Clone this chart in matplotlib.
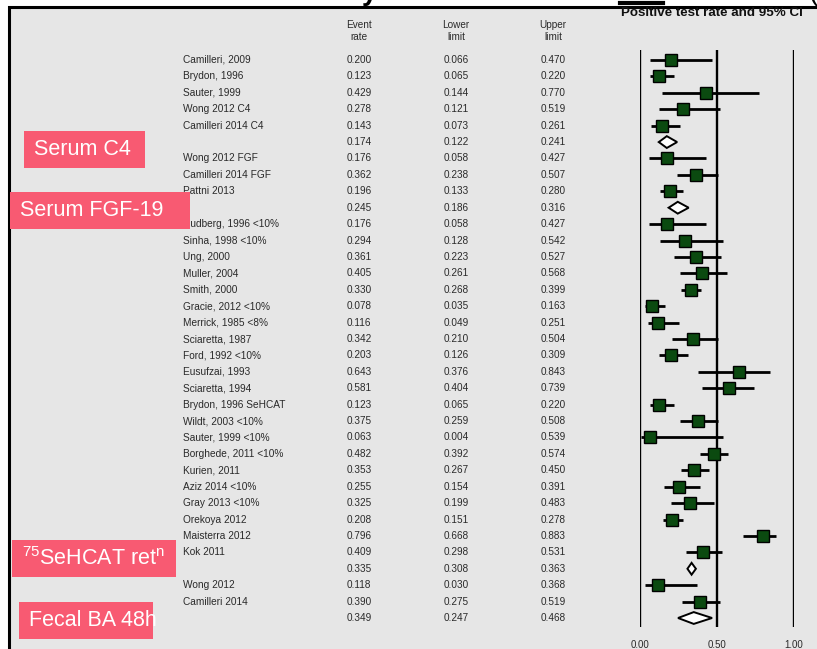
import matplotlib
matplotlib.use("Agg")
import matplotlib.pyplot as plt
import matplotlib.transforms as mtransforms
from matplotlib.patches import Rectangle, Polygon
from matplotlib.lines import Line2D

plt.rcParams["font.family"] = ["Liberation Sans", "DejaVu Sans"]
plt.rcParams["mathtext.fontset"] = "custom"
plt.rcParams["mathtext.rm"] = "Liberation Sans"

# study rows, top to bottom ("" = pooled estimate of the group above)
studies = [
    "Camilleri, 2009", "Brydon, 1996", "Sauter, 1999", "Wong 2012 C4",
    "Camilleri 2014 C4", "",
    "Wong 2012 FGF", "Camilleri 2014 FGF", "Pattni 2013", "",
    "Rudberg, 1996 <10%", "Sinha, 1998 <10%", "Ung, 2000", "Muller, 2004",
    "Smith, 2000", "Gracie, 2012 <10%", "Merrick, 1985 <8%", "Sciaretta, 1987",
    "Ford, 1992 <10%", "Eusufzai, 1993", "Sciaretta, 1994",
    "Brydon, 1996 SeHCAT", "Wildt, 2003 <10%", "Sauter, 1999 <10%",
    "Borghede, 2011 <10%", "Kurien, 2011", "Aziz 2014 <10%", "Gray 2013 <10%",
    "Orekoya 2012", "Maisterra 2012", "Kok 2011", "",
    "Wong 2012", "Camilleri 2014", "",
]
event_rate = [
    0.200, 0.123, 0.429, 0.278, 0.143, 0.174,
    0.176, 0.362, 0.196, 0.245,
    0.176, 0.294, 0.361, 0.405, 0.330, 0.078, 0.116, 0.342, 0.203, 0.643,
    0.581, 0.123, 0.375, 0.063, 0.482, 0.353, 0.255, 0.325, 0.208, 0.796,
    0.409, 0.335,
    0.118, 0.390, 0.349,
]
lower_limit = [
    0.066, 0.065, 0.144, 0.121, 0.073, 0.122,
    0.058, 0.238, 0.133, 0.186,
    0.058, 0.128, 0.223, 0.261, 0.268, 0.035, 0.049, 0.210, 0.126, 0.376,
    0.404, 0.065, 0.259, 0.004, 0.392, 0.267, 0.154, 0.199, 0.151, 0.668,
    0.298, 0.308,
    0.030, 0.275, 0.247,
]
upper_limit = [
    0.470, 0.220, 0.770, 0.519, 0.261, 0.241,
    0.427, 0.507, 0.280, 0.316,
    0.427, 0.542, 0.527, 0.568, 0.399, 0.163, 0.251, 0.504, 0.309, 0.843,
    0.739, 0.220, 0.508, 0.539, 0.574, 0.450, 0.391, 0.483, 0.278, 0.883,
    0.531, 0.363,
    0.368, 0.519, 0.468,
]
x_ticks = [0.0, 0.5, 1.0]
x_tick_labels = ["0.00", "0.50", "1.00"]

# group labels: (text, box left, box top, box right, box bottom) in pixels
group_boxes = [
    ("Serum C4", 24, 131, 145, 168),
    ("Serum FGF-19", 10, 192, 190, 229),
    (r"$\mathregular{^{75}}$SeHCAT ret$\mathregular{^{n}}$", 12, 540, 176, 577),
    ("Fecal BA 48h", 19, 602, 153, 639),
]

W, H = 817, 649
BG = "#e6e6e6"
PINK = "#f85a72"
TXT = "#2a2a2a"


def fx(px):
    return px / W


def fy(py):
    return 1 - py / H


fig = plt.figure(figsize=(W / 100, H / 100), dpi=100, facecolor="white")

# slide panel with black border on top/left
fig.add_artist(Rectangle((fx(8.5), -0.05), 1.2, fy(6.5) + 0.05,
                         transform=fig.transFigure, facecolor=BG,
                         edgecolor="black", linewidth=2.2, zorder=-5))

# cut-off remnants of slide title above the panel
fig.text(fx(362), 1.0, "y", fontsize=20, fontweight="bold", va="baseline")
fig.text(fx(808), 1.0, "(", fontsize=20, va="baseline")
fig.add_artist(Line2D([fx(620), fx(663)], [fy(3), fy(3)], color="black",
                      linewidth=3, transform=fig.transFigure))

# forest axis: x = 0 at px 640, 1 at px 794; rows from y=60 to 618
n = len(studies)
row_step = (618 - 60) / (n - 1)
ax = fig.add_axes([fx(640), fy(627), fx(794) - fx(640), (627 - 50) / H])
ax.set_facecolor("none")
ax.set_xlim(0, 1)
ax.set_ylim((n - 1) + (627 - 618) / row_step, -(60 - 50) / row_step)
for s in ax.spines.values():
    s.set_visible(False)
ax.set_yticks([])
ax.set_xticks(x_ticks)
ax.set_xticklabels(x_tick_labels, fontsize=7, color=TXT)
ax.tick_params(axis="x", length=0, pad=9)
for xv in x_ticks:
    ax.axvline(xv, color="black", linewidth=1.7, zorder=1)

rows = list(range(n))
study_rows = [r for r in rows if studies[r]]
pooled_rows = [r for r in rows if not studies[r]]

ax.hlines(study_rows, [lower_limit[r] for r in study_rows],
          [upper_limit[r] for r in study_rows], color="black",
          linewidth=2, zorder=2, clip_on=False)
ax.plot([event_rate[r] for r in study_rows], study_rows, "s",
        markersize=9, markerfacecolor="#0b4a10", markeredgecolor="black",
        markeredgewidth=1, linestyle="none", zorder=3, clip_on=False)
half_h = 0.36
for r in pooled_rows:
    ax.add_patch(Polygon([(lower_limit[r], r), (event_rate[r], r - half_h),
                          (upper_limit[r], r), (event_rate[r], r + half_h)],
                         closed=True, facecolor="white", edgecolor="black",
                         linewidth=1.4, zorder=3, clip_on=False))

# table columns
trans = mtransforms.blended_transform_factory(fig.transFigure, ax.transData)
for r in rows:
    ax.text(fx(183), r, studies[r], transform=trans, fontsize=7.3, color=TXT,
            ha="left", va="center", clip_on=False)
    ax.text(fx(359), r, f"{event_rate[r]:.3f}", transform=trans, fontsize=7.2,
            color=TXT, ha="center", va="center", clip_on=False)
    ax.text(fx(456), r, f"{lower_limit[r]:.3f}", transform=trans, fontsize=7.2,
            color=TXT, ha="center", va="center", clip_on=False)
    ax.text(fx(553), r, f"{upper_limit[r]:.3f}", transform=trans, fontsize=7.2,
            color=TXT, ha="center", va="center", clip_on=False)

for label, xc in [("Event\nrate", 359), ("Lower\nlimit", 456), ("Upper\nlimit", 553)]:
    fig.text(fx(xc), fy(31), label, fontsize=7.2, color=TXT, ha="center",
             va="center", linespacing=1.25)

fig.text(fx(712), fy(13), "Positive test rate and 95% CI", fontsize=9.6,
         fontweight="bold", color="#111111", ha="center", va="center")

# pink group labels over the table
for label, x0, y0, x1, y1 in group_boxes:
    fig.add_artist(Rectangle((fx(x0), fy(y1)), fx(x1) - fx(x0), (y1 - y0) / H,
                             transform=fig.transFigure, facecolor=PINK,
                             edgecolor="none", zorder=5))
    fig.text(fx(x0 + 10), fy((y0 + y1) / 2), label, fontsize=15.5,
             color="white", ha="left", va="center", zorder=6)

fig.savefig("out.png", dpi=100, facecolor="white")
